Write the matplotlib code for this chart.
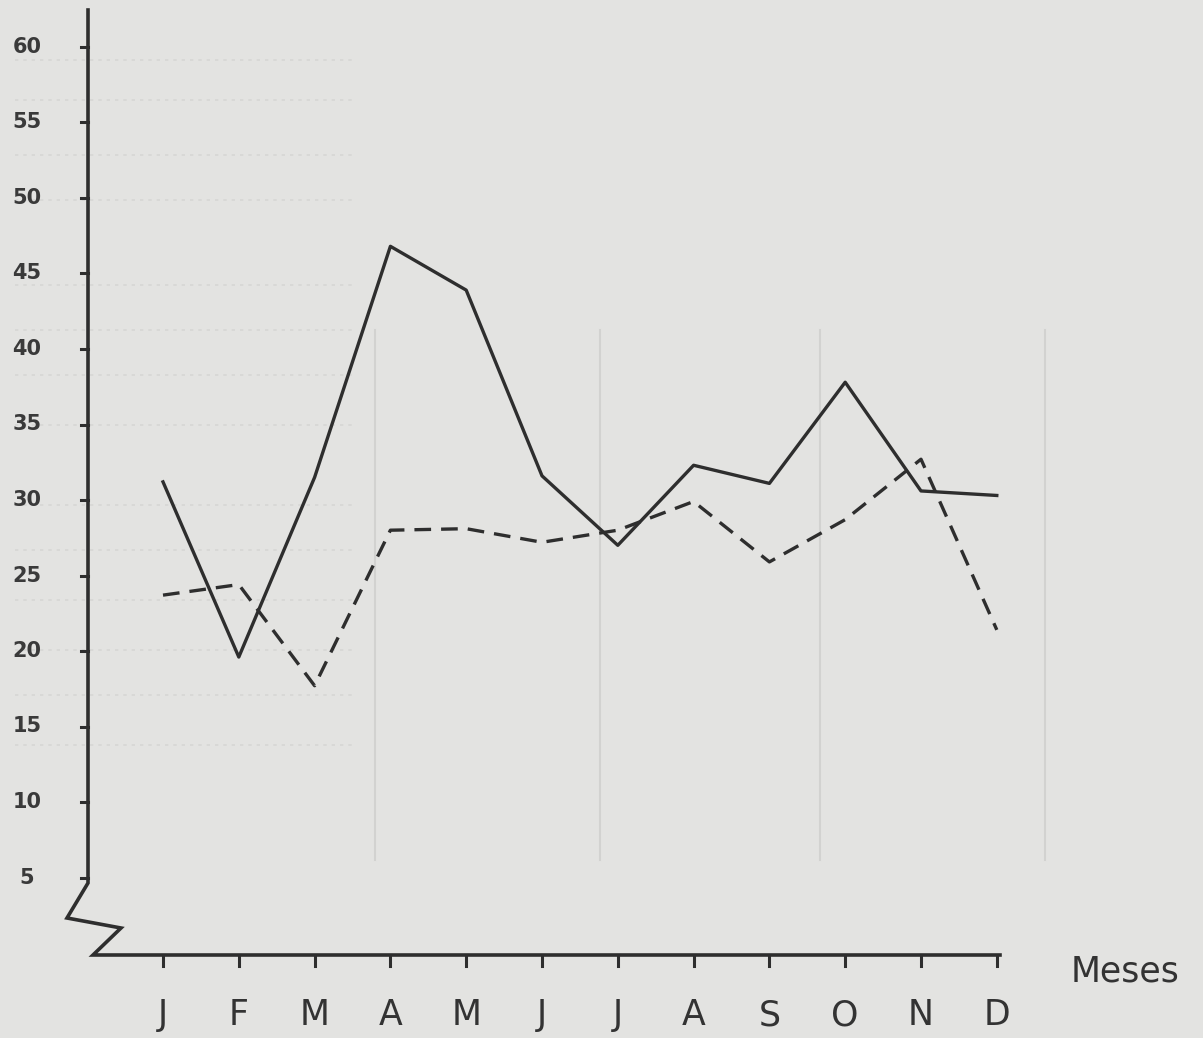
"""
Monthly series, solid vs dashed, redrawn from a scanned hand-lettered chart.
"""

import matplotlib
matplotlib.use('Agg')
import matplotlib.pyplot as plt

# Data
months = ['J', 'F', 'M', 'A', 'M', 'J', 'J', 'A', 'S', 'O', 'N', 'D']
serie_solida = [31.2, 19.6, 31.5, 46.8, 43.9, 31.6, 27.0, 32.3, 31.1, 37.8, 30.6, 30.3]
serie_tracejada = [23.7, 24.4, 17.7, 28.0, 28.1, 27.2, 28.0, 29.9, 25.9, 28.7, 32.7, 21.4]
y_ticks = [5, 10, 15, 20, 25, 30, 35, 40, 45, 50, 55, 60]

W, H = 1203, 1038
bg = '#e3e3e1'
ink = '#2e2e2e'

# pixel -> data helpers (used only for the hand-drawn axis frame)
X0, DX = 163, 75.8      # px of first month, px per month
Y0, DY = 47, 15.1       # px of value 60, px per unit


def px_x(p):
    return (p - X0) / DX


def px_y(p):
    return 60 - (p - Y0) / DY


fig = plt.figure(figsize=(W / 100, H / 100), dpi=100, facecolor=bg)
ax = fig.add_axes([0, 0, 1, 1])
ax.set_facecolor(bg)
ax.set_xlim(px_x(0), px_x(W))
ax.set_ylim(px_y(H), px_y(0))
ax.axis('off')

# faint ghost lines from the page behind
for gx in [375, 600, 820, 1045]:
    ax.plot([px_x(gx)] * 2, [px_y(330), px_y(860)], color='#d2d2d0', lw=1.5, zorder=0)
for gy in [60, 100, 155, 200, 285, 330, 375, 425, 505, 550, 600, 650, 695, 745]:
    ax.plot([px_x(15), px_x(355)], [px_y(gy)] * 2, color='#d6d6d4', lw=1.2,
            ls=(0, (2, 3)), zorder=0)

# axis frame with the break at the bottom-left corner
frame_x = [88, 88, 67, 121, 93, 1000]
frame_y = [10, 883, 918, 928, 955, 955]
ax.plot([px_x(p) for p in frame_x], [px_y(p) for p in frame_y],
        color=ink, lw=2.6, solid_joinstyle='miter', zorder=3)

# y ticks and labels
for v in y_ticks:
    ax.plot([px_x(81), px_x(88)], [v, v], color=ink, lw=2.2, zorder=3)
    ax.text(px_x(27), v, str(v), ha='center', va='center', fontsize=15,
            fontweight='bold', color='#3a3a3a', family='DejaVu Sans')

# x ticks and labels
for i, m in enumerate(months):
    ax.plot([i, i], [px_y(955), px_y(966)], color=ink, lw=2.2, zorder=3)
    ax.text(i, px_y(1015), m, ha='center', va='center', fontsize=25,
            color='#333333', family='DejaVu Sans')

ax.text(px_x(1125), px_y(972), 'Meses', ha='center', va='center',
        fontsize=25, color='#333333', family='DejaVu Sans')

# the two series
x = list(range(len(months)))
ax.plot(x, serie_solida, color=ink, lw=2.4, zorder=4)
ax.plot(x, serie_tracejada, color=ink, lw=2.4, ls=(0, (5, 3)), zorder=4)

plt.savefig('out.png', dpi=100, facecolor=bg)
